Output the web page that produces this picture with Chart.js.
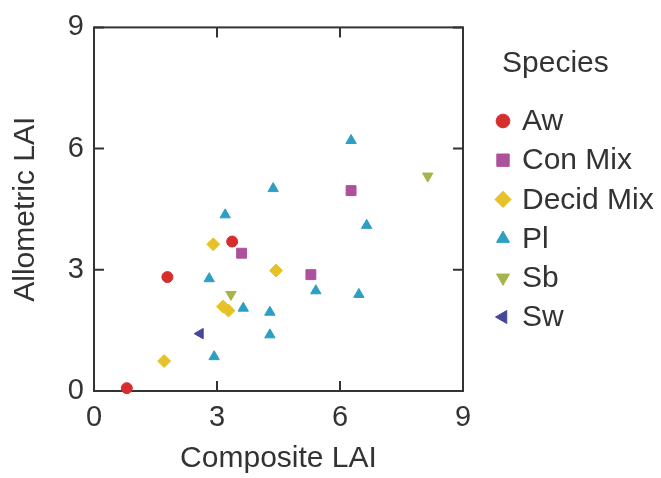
<!DOCTYPE html>
<html>
<head>
<meta charset="utf-8">
<script src="https://cdn.jsdelivr.net/npm/chart.js@4"></script>
<style>
  html, body { margin: 0; padding: 0; background: #fff; }
  #wrap { width: 661px; height: 478px; }
</style>
</head>
<body>
<div id="wrap"><canvas id="laiChart" width="661" height="478"></canvas></div>
<script>
// Datos (LAI compuesto vs alométrico)
const species = ['Aw', 'Con Mix', 'Decid Mix', 'Pl', 'Sb', 'Sw'];

const awX = [0.80, 1.79, 3.37];
const awY = [0.07, 2.82, 3.70];

const conMixX = [3.60, 5.29, 6.27];
const conMixY = [3.41, 2.88, 4.96];

const decidMixX = [1.71, 2.91, 3.15, 3.28, 4.44];
const decidMixY = [0.74, 3.63, 2.09, 1.99, 2.98];

const plX = [2.93, 2.81, 3.20, 3.64, 4.29, 4.29, 4.37, 5.41, 6.46, 6.65, 6.27];
const plY = [0.85, 2.78, 4.36, 2.05, 1.95, 1.39, 5.01, 2.48, 2.39, 4.10, 6.20];

const sbX = [3.34, 8.14];
const sbY = [2.39, 5.32];

const swX = [2.59];
const swY = [1.42];

const xTicks = [0, 3, 6, 9];
const yTicks = [0, 3, 6, 9];

const FONT = "'Liberation Sans', Arial, Helvetica, sans-serif";
const TEXT = '#333';

function toPoints(xs, ys) {
    return xs.map((x, i) => ({ x: x, y: ys[i] }));
}

function makeSet(label, xs, ys, color, style, radius, rotation) {
    return {
        label: label,
        data: toPoints(xs, ys),
        backgroundColor: color,
        borderColor: color,
        borderWidth: 1,
        pointStyle: style,
        pointRadius: radius,
        pointRotation: rotation || 0,
        clip: false
    };
}

// Marco con marcas hacia dentro en los cuatro lados
const framePlugin = {
    id: 'frame',
    beforeDatasetsDraw(chart) {
        const { ctx, chartArea: a, scales } = chart;
        const len = 10;
        ctx.save();
        ctx.strokeStyle = TEXT;
        ctx.lineWidth = 2;
        ctx.strokeRect(a.left, a.top, a.right - a.left, a.bottom - a.top);
        ctx.beginPath();
        xTicks.forEach(v => {
            const px = scales.x.getPixelForValue(v);
            ctx.moveTo(px, a.bottom); ctx.lineTo(px, a.bottom - len);
            ctx.moveTo(px, a.top); ctx.lineTo(px, a.top + len);
        });
        yTicks.forEach(v => {
            const py = scales.y.getPixelForValue(v);
            ctx.moveTo(a.left, py); ctx.lineTo(a.left + len, py);
            ctx.moveTo(a.right, py); ctx.lineTo(a.right - len, py);
        });
        ctx.stroke();
        ctx.restore();
    }
};

// Leyenda a la derecha con título "Species"
const sideLegend = {
    id: 'sideLegend',
    afterDraw(chart) {
        const { ctx, chartArea: a } = chart;
        const x0 = a.right + 40;
        ctx.save();
        ctx.fillStyle = TEXT;
        ctx.font = '30px ' + FONT;
        ctx.textAlign = 'left';
        ctx.textBaseline = 'middle';
        ctx.fillText('Species', x0 - 1, 64);
        chart.data.datasets.forEach((ds, i) => {
            const cy = 121 + i * 39.2;
            ctx.fillStyle = ds.backgroundColor;
            ctx.strokeStyle = ds.borderColor;
            ctx.lineWidth = 1;
            Chart.helpers.drawPoint(ctx, {
                pointStyle: ds.pointStyle,
                radius: ds.pointRadius * 1.25,
                rotation: ds.pointRotation,
                borderWidth: 1
            }, x0, cy);
            ctx.fillStyle = TEXT;
            ctx.fillText(ds.label, x0 + 19, cy + 1);
        });
        ctx.restore();
    }
};

const ctx = document.getElementById('laiChart');

new Chart(ctx, {
    type: 'scatter',
    data: {
        datasets: [
            makeSet(species[0], awX, awY, '#d62d2d', 'circle', 5.5),
            makeSet(species[1], conMixX, conMixY, '#ad519c', 'rect', 7),
            makeSet(species[2], decidMixX, decidMixY, '#e6c229', 'rectRot', 6.5),
            makeSet(species[3], plX, plY, '#2e9fc4', 'triangle', 6),
            makeSet(species[4], sbX, sbY, '#a6b44a', 'triangle', 6, 180),
            makeSet(species[5], swX, swY, '#46469a', 'triangle', 6, 270)
        ]
    },
    plugins: [framePlugin, sideLegend],
    options: {
        responsive: false,
        animation: false,
        events: [],
        layout: {
            padding: { top: 21, right: 198, bottom: 0, left: 0 }
        },
        plugins: {
            legend: { display: false },
            tooltip: { enabled: false }
        },
        scales: {
            x: {
                type: 'linear',
                min: 0,
                max: 9,
                afterBuildTicks: s => { s.ticks = xTicks.map(v => ({ value: v })); },
                afterFit: s => { s.height = 87; },
                grid: { display: false, drawTicks: false, tickLength: 0 },
                border: { display: false },
                ticks: {
                    color: TEXT,
                    font: { family: FONT, size: 29 },
                    padding: 10,
                    maxRotation: 0
                },
                title: {
                    display: true,
                    text: 'Composite LAI',
                    color: TEXT,
                    font: { family: FONT, size: 30 },
                    padding: { top: 0, bottom: 1 }
                }
            },
            y: {
                type: 'linear',
                min: 0,
                max: 9,
                afterBuildTicks: s => { s.ticks = yTicks.map(v => ({ value: v })); },
                afterFit: s => { s.width = 94; },
                grid: { display: false, drawTicks: false, tickLength: 0 },
                border: { display: false },
                ticks: {
                    color: TEXT,
                    font: { family: FONT, size: 29 },
                    padding: 10
                },
                title: {
                    display: true,
                    text: 'Allometric LAI',
                    color: TEXT,
                    font: { family: FONT, size: 30 },
                    padding: { top: 8, bottom: 0 }
                }
            }
        }
    }
});
</script>
</body>
</html>
